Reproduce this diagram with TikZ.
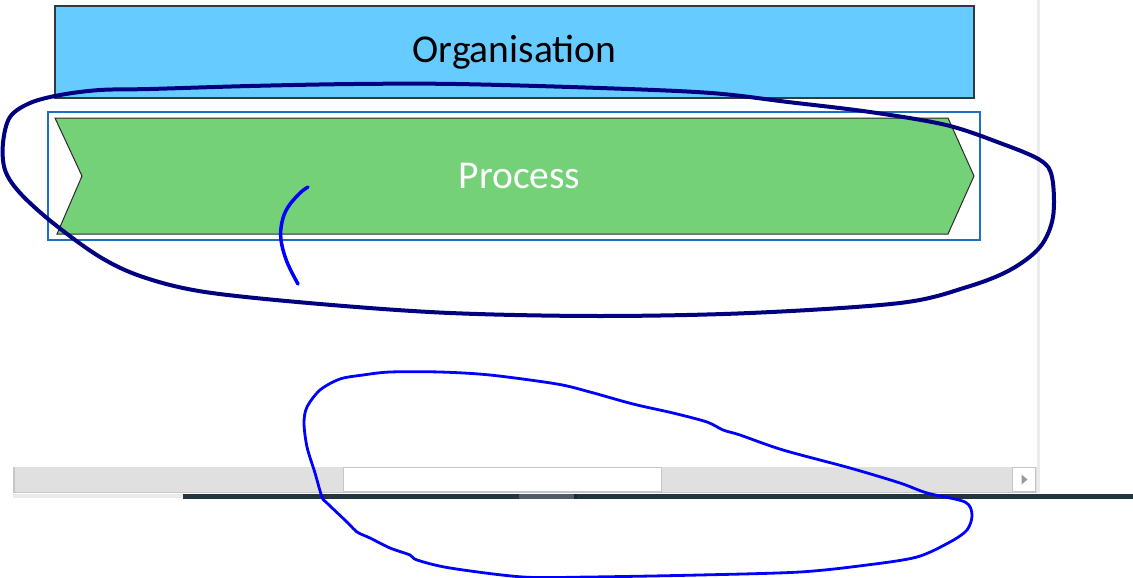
\documentclass[tikz,border=0pt]{standalone}
\usepackage{fontspec}
\setmainfont{Carlito}
\definecolor{orgfill}{HTML}{66CCFF}
\definecolor{orgline}{HTML}{2E3B44}
\definecolor{procfill}{HTML}{75D178}
\definecolor{procline}{HTML}{2B2B2B}
\definecolor{framecol}{HTML}{1E6FBE}
\definecolor{inknavy}{HTML}{000080}
\definecolor{inkblue}{HTML}{0000FF}
\definecolor{sbfill}{HTML}{E0E0E0}
\definecolor{sbline}{HTML}{C6C6C6}
\definecolor{darkbar}{HTML}{233540}
\definecolor{midbar}{HTML}{4F5D66}
\definecolor{paneline}{HTML}{EBEBEB}
\tikzset{
  orgbox/.style={draw=orgline, line width=1.5, fill=orgfill, minimum width=919, minimum height=92, inner sep=0, font=\fontsize{39.5}{46}\selectfont},
  framebox/.style={draw=framecol, line width=2.8, minimum width=932, minimum height=128, inner sep=0},
  chev/.style={draw=procline, line width=1, fill=procfill, line join=miter},
  proclabel/.style={text=white, inner sep=0, font=\fontsize{39.5}{46}\selectfont},
  navyink/.style={draw=inknavy, line width=4, line cap=round, line join=round},
  blueink/.style={draw=inkblue, line width=2.8, line cap=round, line join=round},
  sbthumb/.style={fill=white, draw=sbline, line width=1},
}
\begin{document}
\begin{tikzpicture}[x=1pt, y=-1pt]
\useasboundingbox (0,0) rectangle (1133,578);
\fill[white] (0,0) rectangle (1133,578);
% pane divider
\fill[paneline] (1036.5,0) rectangle (1039.5,493);
% organisation
\node[orgbox] (org) at (514.5,52) {Organisation};
% frame
\node[framebox] (frame) at (514,176) {};
% process chevron
\draw[chev] (55,118) coordinate (c1) -- (948,118) coordinate (c2) -- (974,176) coordinate (tip)
  -- (948,234) coordinate (c3) -- (57,234) coordinate (c4) -- (82,176) coordinate (notch) -- cycle;
\node[proclabel] (proc) at (519.5,176) {Process};
% scrollbar
\fill[sbfill] (13,467) rectangle (1037,492);
\draw[sbline, line width=2] (14,467) -- (14,492);
\draw[sbline, line width=1] (13,492) -- (1037,492);
\node[sbthumb, minimum width=318, minimum height=24, inner sep=0] (thumb) at (502,479) {};
\node[sbthumb, minimum width=23, minimum height=24, inner sep=0] (btn) at (1023.5,479) {};
\fill[gray!80] (1021.5,474.5) -- (1027.5,479.5) -- (1021.5,484.5) -- cycle;
% bottom lines
\fill[black!8] (13,494) rectangle (183,498);
\fill[darkbar] (183,494) rectangle (1133,499);
\fill[midbar] (519,494) rectangle (574,499);
\fill[darkbar!80!black] (574,494) rectangle (577,499);
% navy loop
\draw[navyink] plot[smooth cycle, tension=0.55] coordinates {
(100,90) (150,89) (250,86) (354,84) (456,84) (600,88) (711,93) (788,102) (870,112)
(946,125) (1000,143) (1040,160) (1052,177) (1053,217) (1040,247) (1010,270) (967,287)
(900,303) (750,313) (600,316) (450,313) (320,304) (205,292) (143,277) (100,257)
(53,223) (20,193) (5,170) (3,143) (10,117) (30,103) (60,95)};
% small blue stroke
\draw[blueink, line width=3.5] plot[smooth, tension=0.6] coordinates {
(308,187) (300,193) (288,207) (282,222) (281,240) (287,262) (298,284)};
% lower blue loop
\draw[blueink] plot[smooth cycle, tension=0.5] coordinates {
(307,407) (320,390) (340,379) (363,375) (390,372) (440,372) (490,375) (557,384)
(590,392) (633,404) (673,413) (707,422) (723,430) (740,435) (783,450) (850,468)
(900,483) (927,493) (965,502) (972,515) (967,530) (950,542) (917,557) (867,565)
(800,572) (700,575) (590,577) (523,577) (450,568) (417,560) (410,555) (390,548)
(370,538) (357,532) (348,523) (327,503) (322,497) (315,473) (307,447) (304,423)};
\end{tikzpicture}
\end{document}
